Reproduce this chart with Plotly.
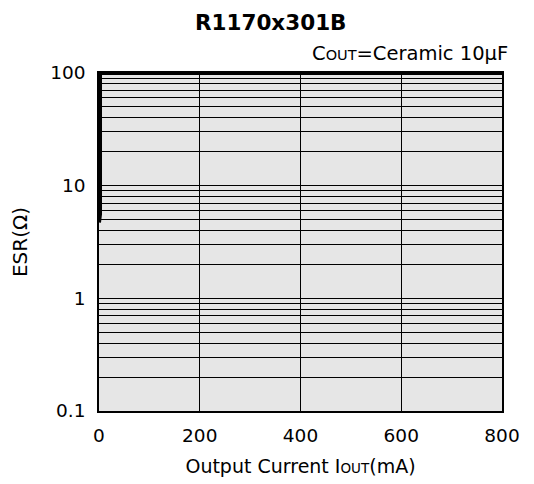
import plotly.graph_objects as go

# Data
boundary_x = [0, 2, 2, 800]
boundary_y = [4.7, 5.6, 100, 100]
x_ticks = [0, 200, 400, 600, 800]
y_major = [0.1, 1, 10, 100]
y_major_labels = ["0.1", "1", "10", "100"]

# grid values for log axis (1..9 per decade)
y_grid = []
y_text = []
for d in [0.1, 1, 10]:
    for m in range(1, 10):
        v = round(d * m, 6)
        y_grid.append(v)
        y_text.append(y_major_labels[y_major.index(v)] if v in y_major else "")
y_grid.append(100)
y_text.append("100")

fig = go.Figure()
fig.add_trace(go.Scatter(x=boundary_x, y=boundary_y, mode="lines",
                         line=dict(color="black", width=4), showlegend=False,
                         cliponaxis=False))

font = "DejaVu Sans, Liberation Sans, Arial, sans-serif"
fig.update_layout(
    width=534, height=484,
    margin=dict(l=91, r=40, t=65, b=81),
    paper_bgcolor="white", plot_bgcolor="#e6e6e6",
    font=dict(family=font, size=18.5, color="black"),
    title=dict(text="<b>R1170x301B</b>", x=0.492, xanchor="center", y=1 - 14 / 484, yanchor="middle",
               font=dict(size=21.5)),
    showlegend=False,
)
fig.update_xaxes(range=[0, 800], tickvals=x_ticks, ticktext=[str(v) for v in x_ticks],
                 showgrid=True, gridcolor="black", gridwidth=1.3,
                 showline=True, linecolor="black", linewidth=1.6, mirror=True,
                 ticks="", ticklabelstandoff=7, zeroline=False,
                 title=dict(text="Output Current I<span style='font-size:13.5px'>OUT</span>(mA)",
                            standoff=15, font=dict(size=19)))
fig.update_yaxes(type="log", range=[-1, 2], tickvals=y_grid, ticktext=y_text,
                 showgrid=True, gridcolor="black", gridwidth=1.3,
                 showline=True, linecolor="black", linewidth=1.6, mirror=True,
                 ticks="", ticklabelstandoff=8, zeroline=False,
                 title=dict(text="ESR(Ω)", standoff=17, font=dict(size=20)))
fig.add_annotation(text="C<span style='font-size:14.5px'>OUT</span>=Ceramic 10μF",
                   xref="paper", yref="paper", x=1.02, y=1.059, xanchor="right", yanchor="middle",
                   showarrow=False, font=dict(size=19.5))
fig.write_html("out.html")
